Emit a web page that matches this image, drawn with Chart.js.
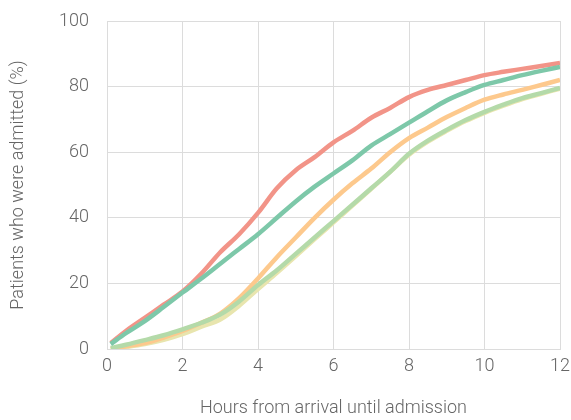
<!DOCTYPE html>
<html>
<head>
<meta charset="utf-8">
<script src="https://cdn.jsdelivr.net/npm/chart.js@4/dist/chart.umd.min.js"></script>
<style>
  html, body { margin: 0; padding: 0; background: #fff; }
  #wrap { width: 571px; height: 420px; }
</style>
</head>
<body>
<div id="wrap"><canvas id="admitChart"></canvas></div>
<script>
// hours since arrival
const hours = [0.1, 0.5, 1, 1.5, 2, 2.5, 3, 3.5, 4, 4.5, 5, 5.5, 6, 6.5, 7, 7.5, 8, 8.5, 9, 9.5, 10, 10.5, 11, 11.5, 12];

// cumulative % admitted, one array per group
const redSeries    = [1.8, 5.5, 9.5, 13.5, 17.5, 23, 29.5, 35, 41.5, 49, 54.5, 58.5, 63, 66.5, 70.5, 73.5, 76.8, 79, 80.5, 82, 83.5, 84.5, 85.4, 86.3, 87.2];
const tealSeries   = [1.5, 4.8, 8.5, 12.8, 17.2, 21.5, 26, 30.5, 35, 40, 45, 49.5, 53.5, 57.5, 62, 65.5, 69, 72.5, 75.8, 78.3, 80.5, 82, 83.5, 84.8, 86];
const orangeSeries = [0, 0.8, 1.8, 3.5, 5.5, 8, 10.8, 15.5, 21.5, 28, 34, 40, 45.5, 50.5, 55, 60, 64.3, 67.5, 70.7, 73.5, 76, 77.6, 79, 80.5, 82];
const greenSeries  = [0.3, 1.3, 2.7, 4.2, 6, 8, 10.5, 14.5, 19.5, 24, 29, 34, 39, 44, 49, 54, 59.5, 63.5, 66.8, 69.8, 72.3, 74.5, 76.5, 78, 79.6];
const yellowSeries = [0, 0.6, 1.5, 2.8, 4.5, 6.8, 9, 13.2, 18.3, 23.2, 28.3, 33.5, 38.6, 43.7, 48.8, 54, 59.2, 63.2, 66.5, 69.5, 72, 74.2, 76.2, 77.8, 79.4];

const xTicks = [0, 2, 4, 6, 8, 10, 12];
const yTicks = [0, 20, 40, 60, 80, 100];

const FONT = 'Roboto, "Liberation Sans", sans-serif';

function toPoints(ys) {
  return hours.map((h, i) => ({ x: h, y: ys[i] }));
}

function line(data, color, order) {
  return {
    data: toPoints(data),
    borderColor: color,
    borderWidth: 4.5,
    pointRadius: 0,
    cubicInterpolationMode: 'monotone',
    fill: false,
    order
  };
}

new Chart(document.getElementById('admitChart'), {
  type: 'line',
  data: {
    datasets: [
      line(tealSeries, '#7dc8a9', 1),
      line(redSeries, '#f29488', 2),
      line(greenSeries, '#b4daa9', 3),
      line(orangeSeries, '#fdc98d', 4),
      line(yellowSeries, '#e8e5ae', 5)
    ]
  },
  options: {
    responsive: true,
    maintainAspectRatio: false,
    animation: false,
    layout: { padding: { top: 21, right: 11, left: 0, bottom: 0 } },
    plugins: { legend: { display: false }, tooltip: { enabled: false } },
    scales: {
      x: {
        type: 'linear',
        min: 0, max: 12,
        afterBuildTicks: s => { s.ticks = xTicks.map(v => ({ value: v })); },
        afterFit: s => { s.height = 71; s.paddingLeft = 0; s.paddingRight = 0; },
        grid: { color: '#dcdcdc', drawTicks: false },
        border: { color: '#dcdcdc' },
        ticks: { color: '#666', padding: 7, font: { family: FONT, size: 18, weight: 300 } },
        title: {
          display: true,
          text: 'Hours from arrival until admission',
          color: '#666',
          padding: { top: 0, bottom: 1 },
          font: { family: FONT, size: 18, weight: 300 }
        }
      },
      y: {
        min: 0, max: 100,
        afterBuildTicks: s => { s.ticks = yTicks.map(v => ({ value: v })); },
        afterFit: s => { s.width = 107; s.paddingTop = 0; s.paddingBottom = 0; },
        grid: { color: '#dcdcdc', drawTicks: false },
        border: { color: '#dcdcdc' },
        ticks: { color: '#666', padding: 18, font: { family: FONT, size: 18, weight: 300 } },
        title: {
          display: true,
          text: 'Patients who were admitted (%)',
          color: '#666',
          padding: { top: 8, bottom: 0 },
          font: { family: FONT, size: 18, weight: 300 }
        }
      }
    }
  },
  plugins: [{
    id: 'topBorder',
    afterDraw(chart) {
      const { ctx, chartArea: a } = chart;
      ctx.save();
      ctx.strokeStyle = '#dcdcdc';
      ctx.lineWidth = 1;
      ctx.beginPath();
      ctx.moveTo(a.left, a.top + 0.5);
      ctx.lineTo(a.right, a.top + 0.5);
      ctx.stroke();
      ctx.restore();
    }
  }]
});
</script>
</body>
</html>
